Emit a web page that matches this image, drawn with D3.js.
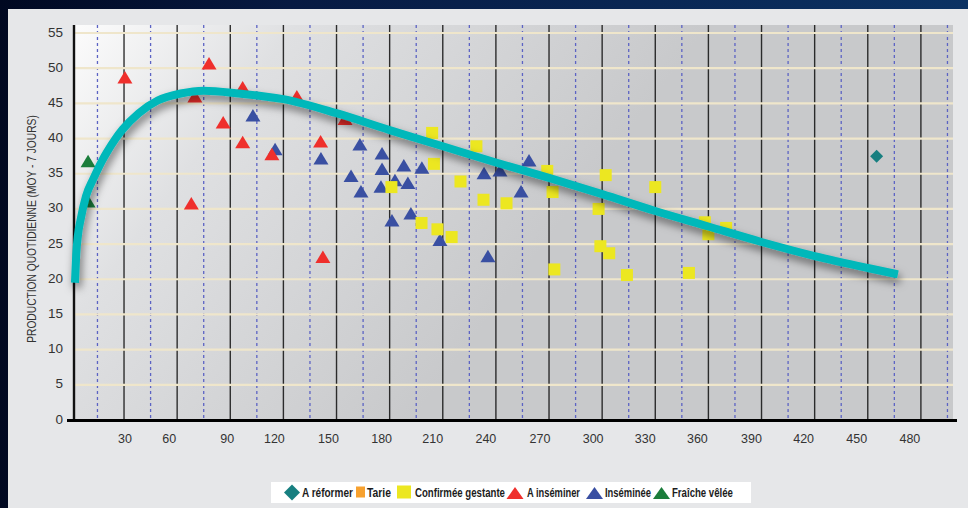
<!DOCTYPE html>
<html><head><meta charset="utf-8">
<script src="https://cdn.jsdelivr.net/npm/d3@7"></script>
<style>html,body{margin:0;padding:0;background:#020a22;overflow:hidden}</style>
</head><body><svg id="c" width="968" height="508"></svg>
<script>
// ---------- DATA ----------
const categories = ["A réformer", "Tarie", "Confirmée gestante", "A inséminer", "Inséminée", "Fraîche vêlée"];

const reformerDays = [455];
const reformerValues = [37.5];

const tarieDays = [];
const tarieValues = [];

const gestanteDays = [204, 229, 205, 220, 181, 233, 246, 198, 207, 215, 269, 272, 302, 330, 298, 299, 304, 273, 314, 349, 358, 360, 370];
const gestanteValues = [40.8, 38.9, 36.4, 33.9, 33.1, 31.3, 30.8, 28.0, 27.1, 26.0, 35.4, 32.4, 34.8, 33.1, 30.0, 24.7, 23.7, 21.4, 20.6, 20.9, 28.1, 26.4, 27.3];

const ainseminerDays = [30.5, 78, 70, 97, 86, 97, 113.5, 127.6, 154.8, 141, 68, 142.3];
const ainseminerValues = [48.7, 50.7, 46.0, 47.3, 42.3, 39.5, 37.8, 46.0, 42.8, 39.6, 30.8, 23.2];

const insemineeDays = [102.8, 115.3, 141.2, 163.2, 175.7, 175.7, 158.2, 163.8, 175.1, 188, 183, 190.3, 198.2, 192, 181.3, 208.4, 235.5, 233.3, 242.3, 258.7, 254.2];
const insemineeValues = [43.3, 38.5, 37.2, 39.2, 37.9, 35.7, 34.7, 32.5, 33.2, 36.2, 34.1, 33.7, 35.9, 29.4, 28.4, 25.6, 23.3, 35.1, 35.5, 36.9, 32.5];

const fraicheDays = [9.7, 9.7];
const fraicheValues = [36.8, 31.1];

const curveDays = [2.3, 3, 4, 5.5, 8.5, 12.9, 17.5, 20.2, 25, 29.2, 38.3, 49, 62, 75, 95, 120, 150, 180, 210, 240, 270, 300, 330, 360, 390, 420, 450, 467];
const curveValues = [19.5, 23.5, 26.3, 28.5, 31.8, 34.4, 36.8, 38.0, 39.9, 41.3, 43.6, 45.4, 46.4, 46.8, 46.4, 45.6, 43.6, 41.2, 38.9, 36.6, 34.4, 32.1, 29.7, 27.5, 25.3, 23.3, 21.6, 20.7];

const yTickLabels = [0, 5, 10, 15, 20, 25, 30, 35, 40, 45, 50, 55];
const xTickLabels = [30, 60, 90, 120, 150, 180, 210, 240, 270, 300, 330, 360, 390, 420, 450, 480];
const yAxisTitle = "PRODUCTION QUOTIDIENNE (MOY - 7 JOURS)";

// ---------- LAYOUT / STYLE ----------
const W = 968, H = 508;
const plotLeft = 74, plotRight = 953, plotTop = 25, plotBottom = 420;
const xLabelNudge = [1, -8, -3, -9, -8, -8, -10, -10, -9, -9, -10, -11, -10, -11, -11, -11];
const colors = {
  reformer: "#177f80", tarie: "#f7a12f", gestante: "#ece721",
  ainseminer: "#ef2f2c", inseminee: "#394fa2", fraiche: "#1b7d3b", curve: "#00b8ba"
};
const narrowFont = "'Liberation Sans Narrow', 'Liberation Sans', Arial, sans-serif";

const svg = d3.select("#c");
const defs = svg.append("defs");

const bgGrad = defs.append("linearGradient").attr("id", "bgGrad").attr("x1", 0).attr("x2", 1).attr("y1", 0).attr("y2", 0);
bgGrad.append("stop").attr("offset", 0).attr("stop-color", "#000821");
bgGrad.append("stop").attr("offset", 0.3).attr("stop-color", "#071a42");
bgGrad.append("stop").attr("offset", 1).attr("stop-color", "#0b3263");

const plotGrad = defs.append("linearGradient").attr("id", "plotGrad").attr("gradientUnits", "userSpaceOnUse")
  .attr("x1", plotLeft).attr("y1", plotTop).attr("x2", 480).attr("y2", 330);
plotGrad.append("stop").attr("offset", 0).attr("stop-color", "#fcfcfc");
plotGrad.append("stop").attr("offset", 0.35).attr("stop-color", "#dfe0e2");
plotGrad.append("stop").attr("offset", 1).attr("stop-color", "#c8c9cb");

const shadow = defs.append("filter").attr("id", "shadow").attr("x", "-10%").attr("y", "-20%").attr("width", "120%").attr("height", "150%");
shadow.append("feDropShadow").attr("dx", 2).attr("dy", 5).attr("stdDeviation", 4.5)
  .attr("flood-color", "#000").attr("flood-opacity", 0.5);

// background
svg.append("rect").attr("width", W).attr("height", H).attr("fill", "url(#bgGrad)");
svg.append("rect").attr("x", 8).attr("y", 9).attr("width", W - 8).attr("height", H - 9).attr("fill", "#e6e7e9");
svg.append("rect").attr("x", plotLeft).attr("y", plotTop).attr("width", plotRight - plotLeft)
  .attr("height", plotBottom - plotTop).attr("fill", "url(#plotGrad)");

// scales
const x = d3.scaleLinear().domain([0, 480]).range([70.9, 920.9]);
const y = d3.scaleLinear().domain([0, 55]).range([420, 33]);

// vertical grid
const g = svg.append("g");
g.selectAll(".vs").data(d3.range(30, 481, 30)).join("line")
  .attr("x1", d => x(d)).attr("x2", d => x(d)).attr("y1", plotTop).attr("y2", plotBottom)
  .attr("stroke", "#1a1a1a").attr("stroke-width", 1.4).attr("opacity", 0.9);
g.selectAll(".vd").data(d3.range(15, 496, 30)).join("line")
  .attr("x1", d => x(d)).attr("x2", d => x(d)).attr("y1", plotTop).attr("y2", plotBottom)
  .attr("stroke", "#5c63c4").attr("stroke-width", 1.3).attr("stroke-dasharray", "3,3");

// horizontal grid
g.selectAll(".h").data(yTickLabels.filter(v => v > 0)).join("line")
  .attr("x1", plotLeft).attr("x2", plotRight).attr("y1", d => y(d)).attr("y2", d => y(d))
  .attr("stroke", "#efe6cb").attr("stroke-width", 2.2);

// axes lines
svg.append("line").attr("x1", plotLeft).attr("x2", plotLeft).attr("y1", plotTop).attr("y2", plotBottom)
  .attr("stroke", "#111").attr("stroke-width", 2.4);
svg.append("line").attr("x1", 67).attr("x2", 957).attr("y1", 420.5).attr("y2", 420.5)
  .attr("stroke", "#000").attr("stroke-width", 2.8);

// y tick labels
svg.append("g").selectAll("text").data(yTickLabels).join("text")
  .attr("x", 63).attr("y", d => y(d) - 1).attr("text-anchor", "end").attr("dominant-baseline", "central")
  .attr("font-family", "'Liberation Sans', Arial, sans-serif").attr("font-size", 13.5).attr("fill", "#333")
  .text(d => d);

// x tick labels
svg.append("g").selectAll("text").data(xTickLabels).join("text")
  .attr("x", (d, i) => x(d) + xLabelNudge[i]).attr("y", 439).attr("text-anchor", "middle").attr("dominant-baseline", "central")
  .attr("font-family", narrowFont).attr("font-size", 12.5).attr("fill", "#333")
  .text(d => d);

// helper: fit text horizontally to a target width by scaling
function fitText(sel, targetW, baseTransform) {
  const w = sel.node().getComputedTextLength();
  const sx = w > 0 ? targetW / w : 1;
  sel.attr("transform", `${baseTransform} scale(${sx},1)`);
}

// y axis title
const yt = svg.append("text").attr("x", 0).attr("y", 0)
  .attr("text-anchor", "middle").attr("dominant-baseline", "central")
  .attr("font-family", narrowFont).attr("font-size", 12.5).attr("fill", "#333")
  .text(yAxisTitle);
fitText(yt, 228, "translate(31.5,229) rotate(-90)");

// marks helpers
const triPath = (cx, cy, w, h) => `M${cx - w / 2},${cy + h / 2}L${cx},${cy - h / 2}L${cx + w / 2},${cy + h / 2}Z`;
const diaPath = (cx, cy, r) => `M${cx},${cy - r}L${cx + r},${cy}L${cx},${cy + r}L${cx - r},${cy}Z`;
const zipPts = (xs, ys) => xs.map((d, i) => [d, ys[i]]);

const marks = svg.append("g");
function triangles(xs, ys, color) {
  marks.append("g").selectAll("path").data(zipPts(xs, ys)).join("path")
    .attr("d", d => triPath(x(d[0]), y(d[1]), 15, 12.5)).attr("fill", color);
}
function squares(xs, ys, color) {
  marks.append("g").selectAll("rect").data(zipPts(xs, ys)).join("rect")
    .attr("x", d => x(d[0]) - 6).attr("y", d => y(d[1]) - 6).attr("width", 12).attr("height", 12).attr("fill", color);
}
triangles(insemineeDays, insemineeValues, colors.inseminee);
squares(tarieDays, tarieValues, colors.tarie);
squares(gestanteDays, gestanteValues, colors.gestante);
triangles(ainseminerDays, ainseminerValues, colors.ainseminer);
triangles(fraicheDays, fraicheValues, colors.fraiche);
marks.append("g").selectAll("path").data(zipPts(reformerDays, reformerValues)).join("path")
  .attr("d", d => diaPath(x(d[0]), y(d[1]), 6.5)).attr("fill", colors.reformer);

// curve
const line = d3.line().x(d => x(d[0])).y(d => y(d[1])).curve(d3.curveMonotoneX);
svg.append("path").datum(zipPts(curveDays, curveValues)).attr("d", line)
  .attr("fill", "none").attr("stroke", colors.curve).attr("stroke-width", 8)
  .attr("filter", "url(#shadow)");

// legend
const lg = svg.append("g");
lg.append("rect").attr("x", 271).attr("y", 482).attr("width", 480).attr("height", 21).attr("fill", "#fff");
const symX = [292, 360.5, 404, 515, 594.5, 661.5];
const textX = [302, 367, 415, 527, 605, 672];
const textW = [51, 24, 90, 53, 46, 61];
const legendColors = [colors.reformer, colors.tarie, colors.gestante, colors.ainseminer, colors.inseminee, colors.fraiche];
const legendShapes = ["diamond", "tarie", "gestante", "tri", "tri", "tri"];
categories.forEach((c, i) => {
  const cx = symX[i], cy = 492.5;
  const s = legendShapes[i];
  if (s === "diamond") lg.append("path").attr("d", diaPath(cx, cy, 8)).attr("fill", legendColors[i]);
  else if (s === "tarie") lg.append("rect").attr("x", cx - 4.5).attr("y", cy - 6).attr("width", 9).attr("height", 11).attr("fill", legendColors[i]);
  else if (s === "gestante") lg.append("rect").attr("x", cx - 7).attr("y", cy - 7).attr("width", 14).attr("height", 13).attr("fill", legendColors[i]);
  else lg.append("path").attr("d", triPath(cx, cy + 0.5, 17, 12)).attr("fill", legendColors[i]);
  const t = lg.append("text").attr("x", 0).attr("y", 0)
    .attr("font-family", narrowFont)
    .attr("font-weight", "bold").attr("font-size", 12.5).attr("fill", "#1c1c1c")
    .text(c);
  fitText(t, textW[i], `translate(${textX[i]},497)`);
});
</script></body></html>
